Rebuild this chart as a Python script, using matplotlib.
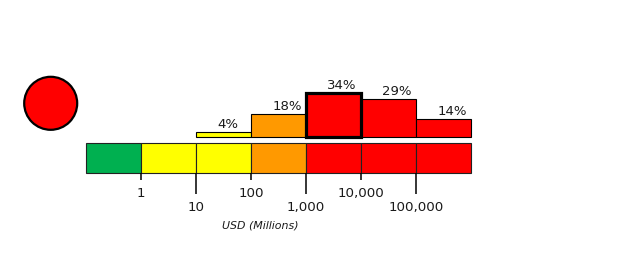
import numpy as np
import matplotlib
matplotlib.use("Agg")
import matplotlib.pyplot as plt
from matplotlib.patches import Circle
from matplotlib.ticker import FixedLocator, FixedFormatter

# ---- data ----
bin_edges = [0.1, 1, 10, 100, 1000, 10000, 100000, 1000000]
percent = [0, 0, 4, 18, 34, 29, 14]
bin_colors = ['#00B050', '#FFFF00', '#FFFF00', '#FF9900', '#FF0000', '#FF0000', '#FF0000']
tick_values = [1, 10, 100, 1000, 10000, 100000]
tick_labels = ['1', '10', '100', '1,000', '10,000', '100,000']
alert_color = '#FF0000'
xlabel = 'USD (Millions)'

W, H = 626, 265
fig = plt.figure(figsize=(W / 100, H / 100), dpi=100)

def px_axes(x0, y_top, w, h):
    return fig.add_axes([x0 / W, (H - y_top - h) / H, w / W, h / H])

lefts = np.array(bin_edges[:-1])
rights = np.array(bin_edges[1:])
widths = rights - lefts
hi = int(np.argmax(percent))
txt_color = '#1a1a1a'

# ---- histogram ----
px_per_pct = 1.31
ax = px_axes(86, 137.3 - 40 * px_per_pct, 385, 40 * px_per_pct)
ax.set_xscale('log')
ax.set_xlim(bin_edges[0], bin_edges[-1])
ax.set_ylim(0, 40)
for i, (l, w, p, c) in enumerate(zip(lefts, widths, percent, bin_colors)):
    if p <= 0:
        continue
    hl = (i == hi)
    ax.bar(l, p, width=w, align='edge', color=c, clip_on=False,
           edgecolor='black', linewidth=2.3 if hl else 0.8, zorder=3 if hl else 2)
    ax.annotate(f'{p}%', xy=(l, p), xytext=(15.3, 3.0), textcoords='offset points',
                ha='left', va='baseline', fontsize=9.5, color=txt_color,
                annotation_clip=False)
ax.axis('off')

# ---- colour scale bar ----
bx = px_axes(86, 143.3, 385, 30)
bx.set_xscale('log')
bx.set_xlim(bin_edges[0], bin_edges[-1])
bx.set_ylim(0, 1)
bx.bar(lefts, [1] * len(lefts), width=widths, align='edge', color=bin_colors,
       edgecolor='#222222', linewidth=0.8, clip_on=False)
for s in bx.spines.values():
    s.set_visible(False)
bx.set_yticks([])
major = tick_values[0::2]
minor = tick_values[1::2]
bx.xaxis.set_major_locator(FixedLocator(major))
bx.xaxis.set_major_formatter(FixedFormatter(tick_labels[0::2]))
bx.xaxis.set_minor_locator(FixedLocator(minor))
bx.xaxis.set_minor_formatter(FixedFormatter(tick_labels[1::2]))
bx.tick_params(axis='x', which='major', length=5.0, width=1.1, pad=4.6,
               labelsize=9.6, color='black', labelcolor=txt_color)
bx.tick_params(axis='x', which='minor', length=15.1, width=1.1, pad=5.0,
               labelsize=9.6, color='black', labelcolor=txt_color)

fig.text(260 / W, (H - 225) / H, xlabel, ha='center', va='center',
         fontsize=7.9, style='italic', color=txt_color)

# ---- alert circle ----
cx = px_axes(50.7 - 30, 103.3 - 30, 60, 60)
cx.set_xlim(-30, 30)
cx.set_ylim(-30, 30)
cx.add_patch(Circle((0, 0), 26.5, facecolor=alert_color, edgecolor='black', linewidth=1.6))
cx.axis('off')

fig.savefig('out.png', dpi=100)
